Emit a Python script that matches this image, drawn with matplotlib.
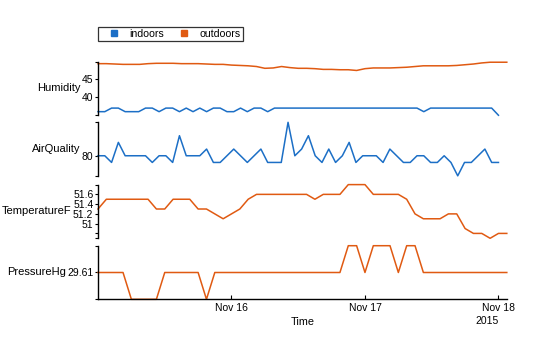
import matplotlib
matplotlib.use('Agg')
import matplotlib.pyplot as plt
import matplotlib.dates as mdates
from matplotlib.lines import Line2D
import pandas as pd

plt.rcParams['font.family'] = ['Liberation Sans', 'DejaVu Sans']

# sample times: indoor sensor ~every 1.2 h, outdoor station every 90 min
indoor_time = pd.date_range('2015-11-15 00:00', '2015-11-18 00:00', periods=60)
outdoor_time = pd.date_range('2015-11-15 00:00', periods=50, freq='90min')

humidity_in = [36, 36, 37, 37, 36, 36, 36, 37, 37, 36,
               37, 37, 36, 37, 36, 37, 36, 37, 37, 36,
               36, 37, 36, 37, 37, 36, 37, 37, 37, 37,
               37, 37, 37, 37, 37, 37, 37, 37, 37, 37,
               37, 37, 37, 37, 37, 37, 37, 37, 36, 37,
               37, 37, 37, 37, 37, 37, 37, 37, 37, 35]
humidity_out = [49.4, 49.4, 49.3, 49.2, 49.2, 49.2, 49.4, 49.5, 49.5, 49.5,
                49.4, 49.4, 49.4, 49.3, 49.2, 49.2, 49.0, 48.9, 48.8, 48.6,
                48.1, 48.2, 48.6, 48.3, 48.1, 48.1, 48.0, 47.8, 47.8, 47.7,
                47.7, 47.5, 48.0, 48.2, 48.2, 48.2, 48.3, 48.4, 48.6, 48.8,
                48.8, 48.8, 48.8, 48.9, 49.1, 49.3, 49.6, 49.8, 49.8, 49.8]
air_quality = [80, 80, 79, 82, 80, 80, 80, 80, 79, 80,
               80, 79, 83, 80, 80, 80, 81, 79, 79, 80,
               81, 80, 79, 80, 81, 79, 79, 79, 85, 80,
               81, 83, 80, 79, 81, 79, 80, 82, 79, 80,
               80, 80, 79, 81, 80, 79, 79, 80, 80, 79,
               79, 80, 79, 77, 79, 79, 80, 81, 79, 79]
temperature = [51.3, 51.5, 51.5, 51.5, 51.5, 51.5, 51.5, 51.3, 51.3, 51.5,
               51.5, 51.5, 51.3, 51.3, 51.2, 51.1, 51.2, 51.3, 51.5, 51.6,
               51.6, 51.6, 51.6, 51.6, 51.6, 51.6, 51.5, 51.6, 51.6, 51.6,
               51.8, 51.8, 51.8, 51.6, 51.6, 51.6, 51.6, 51.5, 51.2, 51.1,
               51.1, 51.1, 51.2, 51.2, 50.9, 50.8, 50.8, 50.7, 50.8, 50.8]
pressure = [29.61, 29.61, 29.61, 29.61, 29.60, 29.60, 29.60, 29.60, 29.61, 29.61,
            29.61, 29.61, 29.61, 29.60, 29.61, 29.61, 29.61, 29.61, 29.61, 29.61,
            29.61, 29.61, 29.61, 29.61, 29.61, 29.61, 29.61, 29.61, 29.61, 29.61,
            29.62, 29.62, 29.61, 29.62, 29.62, 29.62, 29.61, 29.62, 29.62, 29.61,
            29.61, 29.61, 29.61, 29.61, 29.61, 29.61, 29.61, 29.61, 29.61, 29.61]

blue = '#1c6fc6'
orange = '#e05a12'

fig = plt.figure(figsize=(5.6, 3.37), dpi=100)
left, width = 0.175, 0.73
boxes = [(0.658, 0.1595), (0.4783, 0.1587), (0.2929, 0.1593), (0.1119, 0.159)]
axes = [fig.add_axes([left, b, width, h]) for b, h in boxes]

axes[0].plot(indoor_time, humidity_in, color=blue, lw=1.1, clip_on=False)
axes[0].plot(outdoor_time, humidity_out, color=orange, lw=1.1, clip_on=False)
axes[1].plot(indoor_time, air_quality, color=blue, lw=1.1, clip_on=False)
axes[2].plot(outdoor_time, temperature, color=orange, lw=1.1, clip_on=False)
axes[3].plot(outdoor_time, pressure, color=orange, lw=1.1, clip_on=False)

# (label, ylim, ticks, tick labels)
panels = [
    ('Humidity', (35, 50), [35, 40, 45, 50], ['', '40', '45', '']),
    ('AirQuality', (77, 85), [77, 80, 85], ['', '80', '']),
    ('TemperatureF', (50.7, 51.8), [50.7, 50.8, 51, 51.2, 51.4, 51.6, 51.8],
     ['', '', '51', '51.2', '51.4', '51.6', '']),
    ('PressureHg', (29.60, 29.62), [29.60, 29.61, 29.62], ['', '29.61', '']),
]

xmin = pd.Timestamp('2015-11-15 00:00')
xmax = pd.Timestamp('2015-11-18 01:30')

for ax, (name, lim, ticks, labels) in zip(axes, panels):
    ax.set_xlim(xmin, xmax)
    ax.set_ylim(*lim)
    ax.set_yticks(ticks)
    ax.set_yticklabels(labels)
    for s in ['top', 'right', 'bottom']:
        ax.spines[s].set_visible(False)
    ax.spines['left'].set_linewidth(1.0)
    ax.tick_params(axis='y', direction='out', length=2.5, width=0.8,
                   labelsize=7.5, pad=0.8)
    ax.tick_params(axis='x', bottom=False, labelbottom=False)
    ax.set_ylabel(name, rotation=0, ha='right', va='center',
                  fontsize=8, labelpad=1.2)

bottom = axes[3]
bottom.spines['bottom'].set_visible(True)
bottom.spines['bottom'].set_linewidth(1.0)
bottom.set_xticks(pd.to_datetime(['2015-11-16', '2015-11-17', '2015-11-18']))
bottom.xaxis.set_major_formatter(mdates.DateFormatter('%b %d'))
bottom.tick_params(axis='x', bottom=True, labelbottom=True, direction='in',
                   length=3, width=0.8, labelsize=7.5, pad=3)
bottom.set_xlabel('Time', fontsize=7.8, labelpad=2.5)
bottom.annotate('2015', xy=(mdates.date2num(pd.Timestamp('2015-11-18')), 0),
                xycoords=('data', 'axes fraction'), xytext=(0, -15.5),
                textcoords='offset points', ha='right', va='center',
                fontsize=7.5)

handles = [Line2D([], [], marker='s', linestyle='none', markersize=4.5, color=blue),
           Line2D([], [], marker='s', linestyle='none', markersize=4.5, color=orange)]
leg = fig.legend(handles, ['indoors', 'outdoors'], loc='upper left',
                 bbox_to_anchor=(98 / 560, 1 - 26.5 / 337), ncol=2,
                 fontsize=7.6, frameon=True, fancybox=False, borderpad=0.2,
                 handlelength=2.55, handletextpad=0.25, columnspacing=0.55,
                 borderaxespad=0)
leg.get_frame().set_edgecolor('black')
leg.get_frame().set_linewidth(0.9)

fig.savefig('out.png', dpi=100)
